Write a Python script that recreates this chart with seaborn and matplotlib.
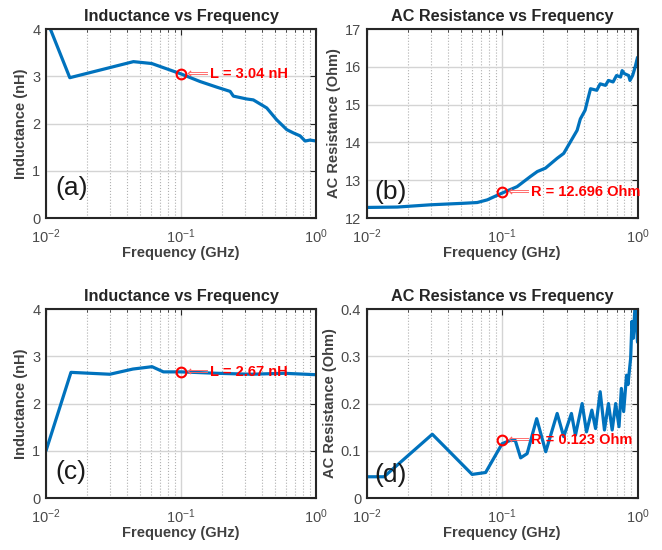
import numpy as np
import seaborn as sns
import matplotlib.pyplot as plt
from matplotlib.ticker import LogLocator, NullFormatter, FixedLocator

# (a) inductance, structure 1
freq_a = [0.01, 0.015, 0.0444, 0.0607, 0.1, 0.138, 0.184, 0.231, 0.244, 0.306,
          0.343, 0.431, 0.51, 0.607, 0.68, 0.76, 0.83, 0.9, 1.0]
ind_a = [4.23, 2.97, 3.31, 3.27, 3.05, 2.89, 2.77, 2.68, 2.58, 2.52,
         2.50, 2.33, 2.08, 1.87, 1.80, 1.74, 1.63, 1.65, 1.63]

# (b) AC resistance, structure 1
freq_b = [0.01, 0.0168, 0.0296, 0.052, 0.0655, 0.0776, 0.1, 0.129, 0.162, 0.182,
          0.209, 0.255, 0.285, 0.32, 0.358, 0.378, 0.41, 0.43, 0.45, 0.50,
          0.53, 0.58, 0.61, 0.66, 0.70, 0.75, 0.77, 0.80, 0.86, 0.88,
          0.92, 0.96, 1.0]
res_b = [12.28, 12.29, 12.35, 12.39, 12.41, 12.48, 12.66, 12.83, 13.10, 13.23,
         13.32, 13.58, 13.71, 14.02, 14.32, 14.62, 14.85, 15.15, 15.42, 15.38,
         15.55, 15.51, 15.64, 15.60, 15.77, 15.73, 15.90, 15.82, 15.77, 15.64,
         15.77, 15.99, 16.25]

# (c) inductance, structure 2
freq_c = [0.01, 0.0153, 0.0297, 0.044, 0.061, 0.074, 0.1, 0.185, 0.33, 0.58, 1.0]
ind_c = [1.0, 2.66, 2.62, 2.73, 2.78, 2.67, 2.67, 2.64, 2.62, 2.64, 2.61]

# (d) AC resistance, structure 2
freq_d = [0.01, 0.0134, 0.0305, 0.060, 0.0755, 0.1, 0.115, 0.125, 0.137, 0.153,
          0.18, 0.21, 0.255, 0.285, 0.325, 0.348, 0.39, 0.42, 0.46, 0.49,
          0.53, 0.57, 0.61, 0.65, 0.69, 0.73, 0.76, 0.79, 0.83, 0.85,
          0.89, 0.91, 0.93, 0.96, 1.0]
res_d = [0.045, 0.045, 0.135, 0.050, 0.054, 0.115, 0.122, 0.122, 0.085, 0.094,
         0.168, 0.098, 0.179, 0.130, 0.179, 0.133, 0.200, 0.140, 0.186, 0.147,
         0.225, 0.144, 0.200, 0.144, 0.200, 0.151, 0.232, 0.183, 0.260, 0.240,
         0.296, 0.374, 0.338, 0.410, 0.330]

titles = ["Inductance vs Frequency", "AC Resistance vs Frequency",
          "Inductance vs Frequency", "AC Resistance vs Frequency"]
ylabels = ["Inductance (nH)", "AC Resistance (Ohm)",
           "Inductance (nH)", "AC Resistance (Ohm)"]
panel_tags = ["(a)", "(b)", "(c)", "(d)"]
notes = ["L = 3.04 nH", "R = 12.696 Ohm", "L = 2.67 nH", "R = 0.123 Ohm"]
marker_y = [3.04, 12.696, 2.67, 0.123]
yticks = [[0, 1, 2, 3, 4], [12, 13, 14, 15, 16, 17],
          [0, 1, 2, 3, 4], [0, 0.1, 0.2, 0.3, 0.4]]

sns.set_style("white")
plt.rcParams['font.family'] = ['Liberation Sans', 'DejaVu Sans']
plt.rcParams['mathtext.fontset'] = 'custom'
plt.rcParams['mathtext.rm'] = 'Liberation Sans'

fig = plt.figure(figsize=(6.62, 5.5), dpi=100)
boxes = [[0.0695, 0.6036, 0.408, 0.3436], [0.554, 0.6036, 0.409, 0.3436],
         [0.0695, 0.0945, 0.408, 0.3436], [0.554, 0.0945, 0.409, 0.3436]]
series = [(freq_a, ind_a), (freq_b, res_b), (freq_c, ind_c), (freq_d, res_d)]
tag_pos = [(0.035, 0.16), (0.03, 0.14), (0.035, 0.14), (0.03, 0.12)]

blue = '#0072BD'
for i, box in enumerate(boxes):
    ax = fig.add_axes(box)
    fx, fy = series[i]
    sns.lineplot(x=fx, y=fy, ax=ax, color=blue, lw=2.3, sort=False)
    ax.set_xscale('log')
    ax.set_xlim(0.01, 1.0)
    ax.set_ylim(yticks[i][0], yticks[i][-1])
    ax.yaxis.set_major_locator(FixedLocator(yticks[i]))
    if i == 3:
        ax.set_yticklabels(['0', '0.1', '0.2', '0.3', '0.4'])
    ax.xaxis.set_major_locator(LogLocator(base=10))
    ax.xaxis.set_minor_locator(LogLocator(base=10, subs=np.arange(2, 10)))
    ax.xaxis.set_minor_formatter(NullFormatter())
    ax.grid(True, which='major', color='#d4d4d4', lw=1.0, ls='-')
    ax.grid(True, which='minor', axis='x', color='#b0b0b0', lw=0.8, ls=':')
    ax.set_axisbelow(True)
    for s in ax.spines.values():
        s.set_color('#262626')
        s.set_linewidth(1.5)
    ax.tick_params(axis='both', which='both', direction='in', top=True,
                   right=True, colors='#262626', labelsize=10.5, labelcolor='#4a4a4a')
    ax.tick_params(which='major', length=4)
    ax.tick_params(which='minor', length=2)
    ax.tick_params(axis='x', which='major', pad=7)
    ax.tick_params(axis='y', which='major', pad=4)
    ax.set_title(titles[i], fontsize=11.7, fontweight='bold', pad=6)
    ax.set_xlabel("Frequency (GHz)", fontsize=10.5, fontweight='bold',
                  color='#404040', labelpad=0)
    ax.set_ylabel(ylabels[i], fontsize=10.5, fontweight='bold',
                  color='#404040', labelpad=3)
    ax.plot([0.1], [marker_y[i]], 'o', mfc='none', mec='#ff0000', ms=7, mew=1.5)
    ax.annotate("\u27F8", xy=(0.1, marker_y[i]), xytext=(4, 0),
                textcoords='offset points', va='center', ha='left',
                color='#ff6060', fontsize=11, family=['DejaVu Sans'])
    ax.annotate(notes[i], xy=(0.1, marker_y[i]), xytext=(21, 0),
                textcoords='offset points', va='center', ha='left',
                color='#ff0000', fontsize=10.5, fontweight='bold')
    ax.text(tag_pos[i][0], tag_pos[i][1], panel_tags[i], transform=ax.transAxes,
            fontsize=19, va='center', ha='left', color='#1a1a1a')

fig.savefig("out.png", dpi=100)
